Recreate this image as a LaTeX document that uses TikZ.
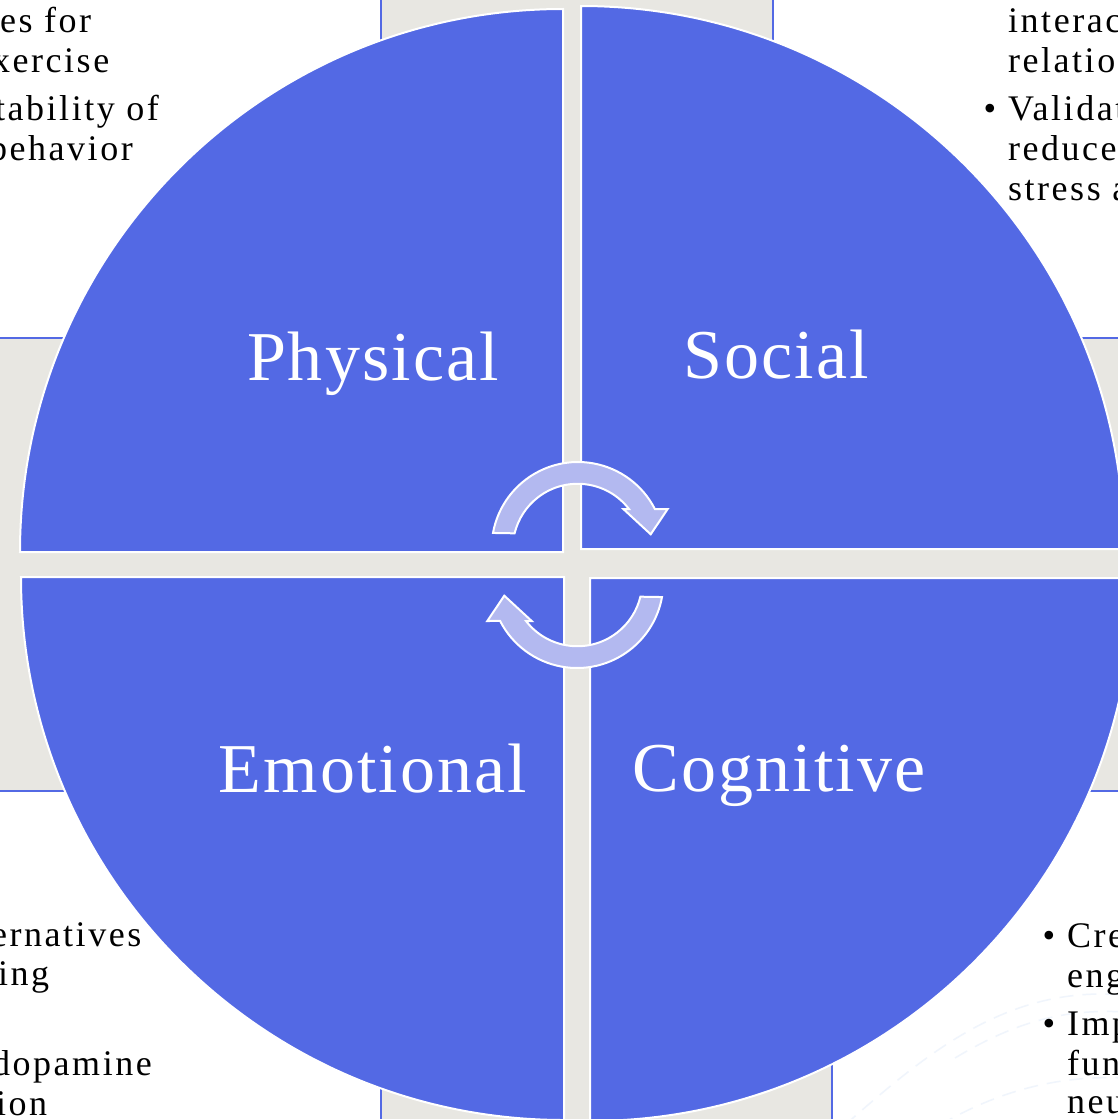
\documentclass[tikz,border=0pt]{standalone}
\usepackage{fontspec}
\setmainfont{Liberation Serif}
\usetikzlibrary{calc}
\definecolor{quadblue}{RGB}{83,105,228}
\definecolor{panelgrey}{RGB}{232,231,226}
\definecolor{arrowfill}{RGB}{179,185,240}
\definecolor{swirl}{RGB}{240,245,252}

\newcommand{\panelfont}{\fontsize{36}{40}\selectfont\addfontfeatures{LetterSpace=7}}
\newcommand{\quadfont}{\fontsize{70}{80}\selectfont\addfontfeatures{LetterSpace=3}}
\newcommand{\bul}{\llap{•\hspace{12pt}}}

\tikzset{
  quad/.style={fill=quadblue, draw=white, line width=2pt},
  textbox/.style={fill=white, draw=quadblue, line width=2pt},
  cyclearrow/.style={fill=arrowfill, draw=white, line width=2pt, line join=miter},
  quadlabel/.style={text=white, font=\quadfont, anchor=base, inner sep=0pt},
  boxline/.style={font=\panelfont, anchor=base west, inner sep=0pt},
  faint/.style={draw=swirl, line width=1.5pt, dash pattern=on 14pt off 9pt}
}

\begin{document}
\begin{tikzpicture}[x=1pt, y=-1pt]
  \useasboundingbox (0,0) rectangle (1118,1119);
  \clip (0,0) rectangle (1118,1119);
  \fill[panelgrey] (0,0) rectangle (1118,1119);

  % corner text panels
  \draw[textbox] (-10,-10) rectangle (381,338);
  \draw[textbox] (773,-10) rectangle (1130,338);
  \draw[textbox] (-10,791) rectangle (381,1130);
  \draw[textbox] (832,791) rectangle (1130,1130);

  \draw[faint] (845,1125) .. controls (930,1050) and (1010,985) .. (1125,995);
  \draw[faint] (955,1058) .. controls (1010,1025) and (1060,1008) .. (1125,1012);
  \draw[faint] (940,1125) .. controls (1000,1090) and (1060,1075) .. (1125,1078);

  % panel text
  \foreach \xx/\yy/\txt [count=\i] in {0/32/es for, -8/72/xercise, -5/120/tability of, -11/160/behavior}
    \node[boxline] (phys-\i) at (\xx,\yy) {\txt};
  \foreach \yy/\txt [count=\i] in {32/interac, 72/relation, 120/\bul Validat, 160/reduce, 200/stress a}
    \node[boxline] (soc-\i) at (1008,\yy) {\txt};
  \foreach \xx/\yy/\txt [count=\i] in {-9/946/ernatives, -2/985/ing, -8/1075/dopamine, -4/1115/ion}
    \node[boxline] (emo-\i) at (\xx,\yy) {\txt};
  \foreach \yy/\txt [count=\i] in {947/\bul Cre, 987/eng, 1035/\bul Imp, 1075/fun, 1113/neu}
    \node[boxline] (cog-\i) at (1067,\yy) {\txt};

  % quadrants
  \draw[quad] (563,552) -- (20,552) arc[start angle=180, end angle=270, radius=543] -- cycle;
  \draw[quad] (581,549) -- (581,6) arc[start angle=270, end angle=360, radius=543] -- cycle;
  \draw[quad] (564,577) -- (21,577) arc[start angle=180, end angle=90, radius=543] -- cycle;
  \draw[quad] (590,578) -- (1133,578) arc[start angle=0, end angle=90, radius=543] -- cycle;

  \node[quadlabel] (physical) at (373,380) {Physical};
  \node[quadlabel] (social) at (776,378) {Social};
  \node[quadlabel] (emotional) at (373,792) {Emotional};
  \node[quadlabel] (cognitive) at (779,791) {Cognitive};

  % circular arrows
  \foreach \turn in {0,180}{
    \begin{scope}[rotate around={\turn:(577.5,565)}]
      \draw[cyclearrow] ($(578,548.4)+(190.3:86.4)$)
        arc[start angle=190.3, end angle=332.9, radius=86.4]
        -- (667.7,509) -- (650.7,534.3) -- (623.3,509) -- (629,509)
        arc[start angle=322.3, end angle=193.7, radius=64.9] -- cycle;
    \end{scope}
  }
\end{tikzpicture}
\end{document}
